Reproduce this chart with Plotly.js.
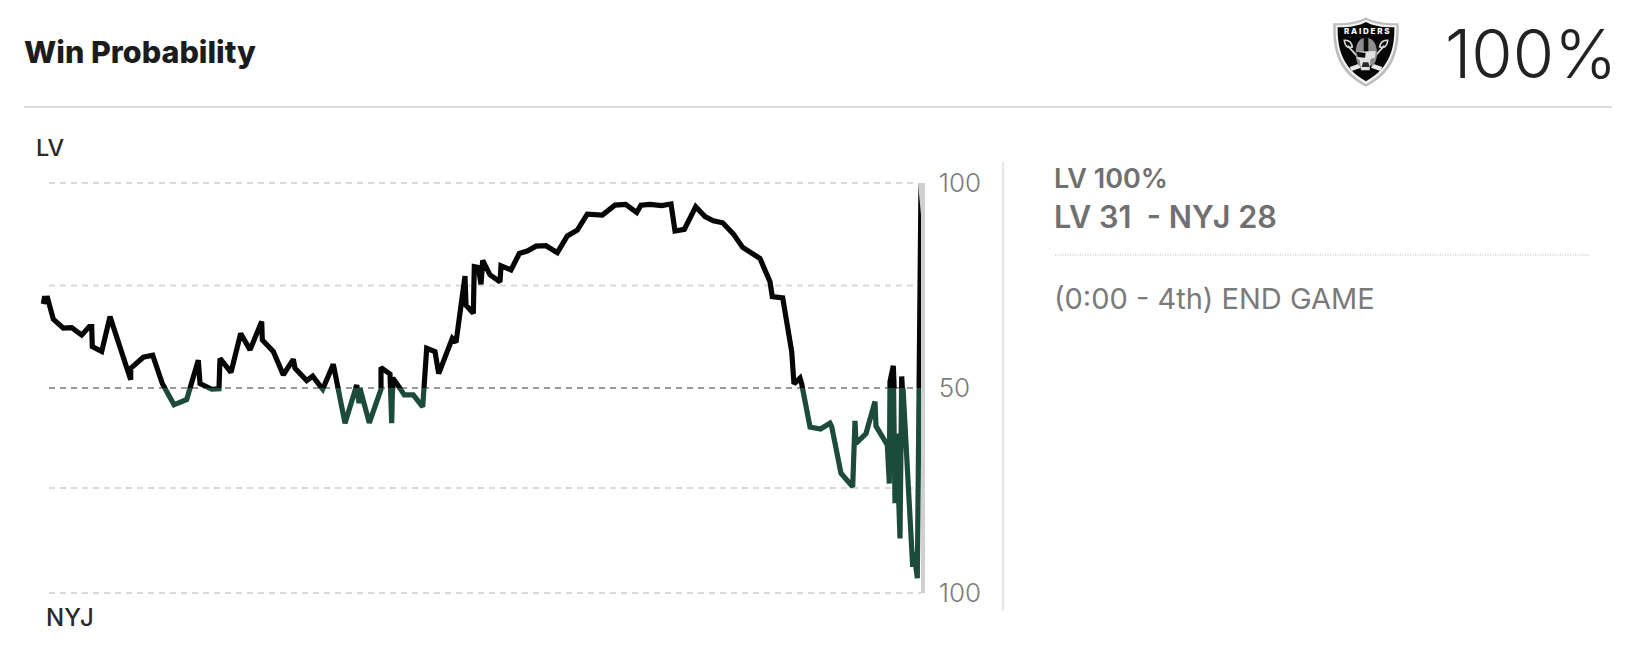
<!DOCTYPE html>
<html><head><meta charset="utf-8">
<script src="https://cdn.plot.ly/plotly-3.0.1.min.js"></script>
<style>html,body{margin:0;padding:0;background:#fff}#c{width:1632px;height:660px}</style>
</head><body><div id="c"></div>
<script>
// Game progress (horizontal position along the game timeline)
const progress = [43.3,44.7,45.7,47,53.3,63.3,71.7,81.7,89.3,91.7,92.3,101.7,110,130.7,130.7,143.3,152.7,162.3,174,186.7,198.3,200,211.7,219,220,231,240.7,250,261.7,262.3,273.3,283.3,293.3,295,306.7,312.7,322.7,333.3,345,356.7,359,360,369.3,381,381,390,391.7,392.7,396.7,404.3,413.3,422.7,426.7,435,438.7,448.3,452.3,456,465,466,473.3,474.3,478.3,481,482.7,490,500,501,511,519.3,527.3,536,546,557.3,567.3,577.3,587.3,602.3,615,625.7,636.7,641,650,661.7,671,675,684.3,695.7,705,713.3,722.7,733.3,742.7,760,770,772.3,782.7,791.7,794,800,801.7,810,820.5,830,831.7,841,852.7,855,856,866,875,876,887.3,889.3,890,893.3,895,896,898,899,900,901.7,903,912.7,914,917.3,921];
// LV win probability, percent
const winProb = [70.5,72.4,70.5,72.4,66.8,64.6,64.7,62.9,65,65,60.1,58.9,67.4,52,54.8,57.5,58,51.1,45.9,47.2,56.8,51.1,49.7,49.8,57.2,53.8,63.3,59.3,66.2,61.7,58.9,53.2,57,54.8,51.8,52.9,49.7,55.8,41.4,50.7,46.3,49.9,41.5,49.7,55,53.4,41.4,52.4,51.1,48.3,48.3,45.4,59.7,58.9,53.5,59.7,62.1,61.1,77.3,70.2,68.2,79.6,79.4,75.3,81.1,77.6,75.9,79.8,78.8,82.8,83.4,84.6,84.7,83,87.1,88.5,92.4,92.2,94.6,94.8,92.8,94.6,94.8,94.5,94.9,88.3,88.7,94.2,91.8,90.8,90.3,87.6,84.3,81.6,75.9,72.3,72,58.9,51,52.4,51,40.5,40,41.4,40.6,29.2,25.9,42,36.5,38.9,46.7,40.7,36.1,26.7,51.5,55.4,21.9,38.9,28,15,13.3,52.8,50,6.4,10,3.6,100];
const gridLevels = [100,75,25.6,0];
const centerLevel = 50;
const axisTop = ['100'], axisBottom = ['50','100'];
const titleText = 'Win Probability', bigText = '100%';
const infoLines = ['LV 100%','LV 31  - NYJ 28','(0:00 - 4th) END GAME'];

const W=1632,H=660,FF='Inter, "Noto Sans", sans-serif';
const px=x=>x/W, py=y=>1-y/H;
const Y100=183,Y50=388,Y0=593,XL=40,XR=930;

const shield = `<svg xmlns="http://www.w3.org/2000/svg" viewBox="0 0 198 210">
<path d="M99 1 C120 14 160 20 197 19 C199 90 190 165 99 209 C8 165 -1 90 1 19 C38 20 78 14 99 1Z" fill="#bdbdbd"/>
<path d="M99 8 C120 20 158 26 190 25 C191 90 180 158 99 201 C18 158 7 90 8 25 C40 26 78 20 99 8Z" fill="#f4f4f4"/>
<path d="M99 15 C120 27 155 32 184 31 C185 90 173 152 99 193 C25 152 13 90 14 31 C43 32 78 27 99 15Z" fill="#070707"/>
<path d="M44 86 L78 124 M154 86 L120 124" stroke="#d8d8d8" stroke-width="5"/>
<path d="M34 70 q20 -2 24 20 q-22 6 -24 -20Z M164 70 q-20 -2 -24 20 q22 6 24 -20Z" fill="none" stroke="#d8d8d8" stroke-width="5"/>
<path d="M50 150 L78 140 L84 152 L56 162Z M148 150 L120 140 L114 152 L142 162Z" fill="#e8e8e8"/>
<path d="M68 108 C68 78 80 62 99 62 C118 62 132 78 132 110 C132 126 126 138 120 146 L78 146 C72 138 68 126 68 108Z" fill="#8f8f8f"/>
<rect x="92" y="62" width="14" height="44" fill="#0c0c0c"/>
<path d="M72 104 L128 102 L126 122 L112 126 L110 160 L84 160 L80 128 L72 124Z" fill="#e2e2e2"/>
<path d="M70 104 L98 108 L96 122 L74 120Z" fill="#0c0c0c"/>
<path d="M86 150 L110 150 L106 136 L90 136Z" fill="#2a2a2a"/>
</svg>`;

const line=(x0,y0,x1,y1,color,width,dash)=>({type:'line',xref:'paper',yref:'paper',x0:px(x0),x1:px(x1),y0:py(y0),y1:py(y1),layer:'below',line:{color,width,dash:dash||'solid'}});
const gridY=v=>Y0-(Y0-Y100)*v/100;
const barPath=[[918,183],[925,183],[925,593],[921,593],[921,215]].map((p,i)=>(i?'L':'M')+px(p[0])+','+py(p[1])).join(' ')+' Z';
const shapes=[
  line(24,107,1612,107,'#dcdcdc',2),
  line(1003,162,1003,611,'#e6e6e6',2),
  line(1055,255,1590,255,'#d0d0d0',1.5,'1px,1.5px'),
  ...gridLevels.map(v=>line(49,gridY(v),v===0?921:913,gridY(v),'#d9d9d9',2,'6px,5px')),
  line(49,gridY(centerLevel),921,gridY(centerLevel),'#9a9a9a',2,'6px,5px'),
  {type:'path',xref:'paper',yref:'paper',path:barPath,layer:'above',fillcolor:'#d0d0d0',line:{width:0}}
];
const ann=(text,x,y,size,color,weight,extra)=>Object.assign({text,x:px(x),y:py(y),xref:'paper',yref:'paper',showarrow:false,xanchor:'left',yanchor:'middle',borderpad:0,font:{family:FF,size,color,weight}},extra||{});
const annotations=[
  ann(titleText,23,51,30.5,'#1c1c1c',800),
  ann(bigText,1444,53,67,'#222',300),
  ann('R A I D E R S',1366,31,8,'#fff',800,{xanchor:'center'}),
  ann('LV',35,147.5,23.5,'#2a2a2a',500),
  ann('NYJ',45,617,24,'#2a2a2a',500),
  ann(infoLines[0],1053,178,27,'#707070',600),
  ann(infoLines[1],1053,216,30.6,'#707070',600),
  ann(infoLines[2],1053,298,29,'#7a7a7a',400)
];
const tick={showgrid:false,zeroline:false,showline:false,side:'right',ticks:'outside',ticklen:2.5,tickcolor:'rgba(0,0,0,0)',tickmode:'array',tickfont:{family:FF,size:26,color:'#7c7c7c',weight:300},fixedrange:true};
const layout={width:W,height:H,margin:{l:0,r:0,t:0,b:0},paper_bgcolor:'#fff',plot_bgcolor:'rgba(0,0,0,0)',showlegend:false,
  xaxis:{domain:[XL/W,XR/W],range:[XL,XR],visible:false,anchor:'y2',fixedrange:true},
  yaxis:Object.assign({domain:[py(Y50),py(Y100)],range:[centerLevel,100],anchor:'x',tickvals:[100],ticktext:axisTop},tick),
  yaxis2:Object.assign({domain:[py(Y0),py(Y50)],range:[0,centerLevel],anchor:'x',tickvals:[50,0],ticktext:axisBottom},tick),
  shapes,annotations,
  images:[{source:'data:image/svg+xml;base64,'+btoa(shield),xref:'paper',yref:'paper',x:px(1333),y:py(17),sizex:66/W,sizey:70/H,sizing:'stretch',xanchor:'left',yanchor:'top',layer:'below'}]
};
const series=(color,yaxis)=>({type:'scatter',mode:'lines',x:progress,y:winProb,xaxis:'x',yaxis,line:{color,width:5.2,shape:'linear'},hoverinfo:'skip'});
Plotly.newPlot('c',[series('#060606','y'),series('#1c4a3b','y2')],layout,{displayModeBar:false,staticPlot:true});
</script></body></html>
